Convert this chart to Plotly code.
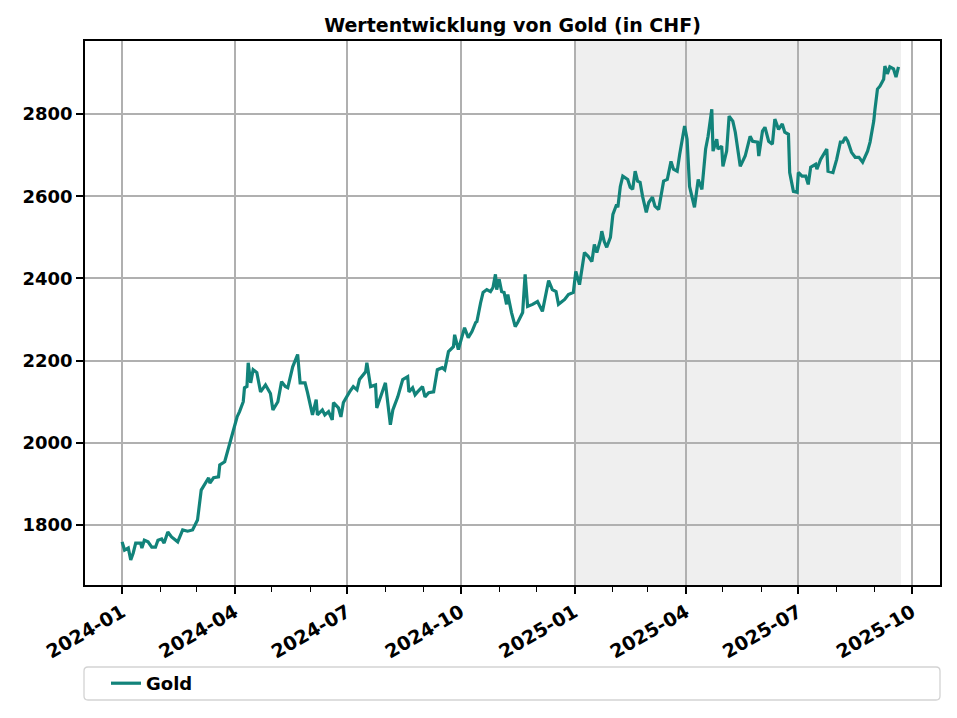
import plotly.graph_objects as go

TITLE = "Wertentwicklung von Gold (in CHF)"
SERIES_NAME = "Gold"

dates = [
    "2024-01-01", "2024-01-03", "2024-01-06", "2024-01-08", "2024-01-10", "2024-01-12",
    "2024-01-16", "2024-01-17", "2024-01-19", "2024-01-22", "2024-01-25", "2024-01-28",
    "2024-01-30", "2024-02-02", "2024-02-04", "2024-02-07", "2024-02-10", "2024-02-13",
    "2024-02-15", "2024-02-19", "2024-02-23", "2024-02-27", "2024-03-02", "2024-03-05",
    "2024-03-08", "2024-03-11", "2024-03-12", "2024-03-15", "2024-03-19", "2024-03-20",
    "2024-03-24", "2024-03-30", "2024-04-03", "2024-04-05", "2024-04-08", "2024-04-09",
    "2024-04-11", "2024-04-12", "2024-04-14", "2024-04-16", "2024-04-19", "2024-04-22",
    "2024-04-26", "2024-04-30", "2024-05-02", "2024-05-06", "2024-05-09", "2024-05-12",
    "2024-05-14", "2024-05-18", "2024-05-22", "2024-05-24", "2024-05-28", "2024-05-30",
    "2024-06-03", "2024-06-06", "2024-06-07", "2024-06-11", "2024-06-13", "2024-06-16",
    "2024-06-19", "2024-06-20", "2024-06-24", "2024-06-26", "2024-06-28", "2024-07-03",
    "2024-07-06", "2024-07-09", "2024-07-11", "2024-07-16", "2024-07-17", "2024-07-20",
    "2024-07-24", "2024-07-25", "2024-07-29", "2024-08-01", "2024-08-05", "2024-08-07",
    "2024-08-11", "2024-08-15", "2024-08-19", "2024-08-20", "2024-08-23", "2024-08-25",
    "2024-08-27", "2024-08-31", "2024-09-02", "2024-09-05", "2024-09-09", "2024-09-12",
    "2024-09-16", "2024-09-18", "2024-09-21", "2024-09-25", "2024-09-26", "2024-09-29",
    "2024-10-02", "2024-10-04", "2024-10-07", "2024-10-10", "2024-10-13", "2024-10-14",
    "2024-10-17", "2024-10-19", "2024-10-22", "2024-10-25", "2024-10-27", "2024-10-29",
    "2024-10-30", "2024-11-01", "2024-11-03", "2024-11-05", "2024-11-07", "2024-11-08",
    "2024-11-11", "2024-11-14", "2024-11-16", "2024-11-20", "2024-11-22", "2024-11-24",
    "2024-11-28", "2024-12-02", "2024-12-06", "2024-12-08", "2024-12-11", "2024-12-14",
    "2024-12-17", "2024-12-19", "2024-12-24", "2024-12-27", "2024-12-31", "2025-01-02",
    "2025-01-05", "2025-01-09", "2025-01-12", "2025-01-15", "2025-01-17", "2025-01-19",
    "2025-01-22", "2025-01-23", "2025-01-25", "2025-01-27", "2025-01-30", "2025-02-01",
    "2025-02-04", "2025-02-05", "2025-02-07", "2025-02-09", "2025-02-13", "2025-02-15",
    "2025-02-17", "2025-02-19", "2025-02-21", "2025-02-23", "2025-02-25", "2025-02-28",
    "2025-03-02", "2025-03-05", "2025-03-07", "2025-03-10", "2025-03-14", "2025-03-17",
    "2025-03-20", "2025-03-22", "2025-03-25", "2025-03-27", "2025-03-31", "2025-04-02",
    "2025-04-04", "2025-04-08", "2025-04-11", "2025-04-14", "2025-04-17", "2025-04-19",
    "2025-04-22", "2025-04-23", "2025-04-26", "2025-04-27", "2025-04-30", "2025-05-01",
    "2025-05-04", "2025-05-06", "2025-05-09", "2025-05-11", "2025-05-15", "2025-05-19",
    "2025-05-23", "2025-05-25", "2025-05-29", "2025-05-30", "2025-06-02", "2025-06-04",
    "2025-06-07", "2025-06-10", "2025-06-12", "2025-06-15", "2025-06-18", "2025-06-20",
    "2025-06-23", "2025-06-24", "2025-06-27", "2025-06-30", "2025-07-01", "2025-07-04",
    "2025-07-07", "2025-07-09", "2025-07-11", "2025-07-15", "2025-07-16", "2025-07-19",
    "2025-07-23", "2025-07-24", "2025-07-25", "2025-07-29", "2025-08-01", "2025-08-04",
    "2025-08-06", "2025-08-08", "2025-08-10", "2025-08-13", "2025-08-16", "2025-08-19",
    "2025-08-22", "2025-08-26", "2025-08-28", "2025-08-31", "2025-09-01", "2025-09-03",
    "2025-09-05", "2025-09-08", "2025-09-09", "2025-09-11", "2025-09-13", "2025-09-16",
    "2025-09-18", "2025-09-20",
]

gold_chf = [
    1759, 1739, 1744, 1715, 1732, 1756,
    1756, 1744, 1763, 1759, 1746, 1746,
    1763, 1766, 1756, 1783, 1771, 1763,
    1759, 1788, 1785, 1788, 1812, 1885,
    1902, 1915, 1902, 1915, 1917, 1946,
    1954, 2024, 2063, 2076, 2100, 2134,
    2137, 2195, 2146, 2178, 2171, 2124,
    2141, 2120, 2080, 2100, 2149, 2137,
    2134, 2185, 2215, 2146, 2146, 2122,
    2068, 2105, 2068, 2080, 2068, 2076,
    2056, 2098, 2085, 2063, 2098, 2124,
    2137, 2129, 2154, 2173, 2195, 2137,
    2141, 2085, 2122, 2146, 2044, 2080,
    2112, 2154, 2161, 2124, 2134, 2117,
    2124, 2137, 2112, 2122, 2124, 2178,
    2183, 2178, 2222, 2234, 2263, 2227,
    2259, 2280, 2256, 2271, 2293, 2295,
    2341, 2366, 2373, 2368, 2378, 2410,
    2373, 2398, 2368, 2366, 2337, 2361,
    2317, 2283, 2293, 2317, 2410, 2332,
    2337, 2344, 2320, 2349, 2395, 2373,
    2368, 2337, 2349, 2361, 2366, 2417,
    2385, 2463, 2454, 2441, 2483, 2463,
    2495, 2515, 2490, 2476, 2500, 2556,
    2580, 2573, 2624, 2649, 2641, 2622,
    2617, 2661, 2637, 2634, 2600, 2561,
    2585, 2598, 2576, 2568, 2637, 2641,
    2685, 2666, 2661, 2702, 2771, 2739,
    2624, 2573, 2641, 2617, 2715, 2746,
    2812, 2710, 2739, 2715, 2722, 2673,
    2710, 2795, 2783, 2756, 2673, 2698,
    2746, 2734, 2732, 2698, 2759, 2768,
    2734, 2727, 2788, 2763, 2776, 2756,
    2751, 2658, 2612, 2610, 2658, 2649,
    2649, 2629, 2671, 2678, 2666, 2690,
    2710, 2715, 2661, 2658, 2690, 2732,
    2732, 2744, 2734, 2707, 2695, 2695,
    2683, 2710, 2732, 2783, 2812, 2861,
    2868, 2885, 2917, 2898, 2915, 2910,
    2890, 2915,
]

SHADE_START = "2025-01-01"
SHADE_END = "2025-09-22"
X_RANGE = ["2023-12-02", "2025-10-23 14:00"]
Y_RANGE = [1654, 2978]
Y_TICKS = [1800, 2000, 2200, 2400, 2600, 2800]
X_TICKS = ["2024-01-01", "2024-04-01", "2024-07-01", "2024-10-01",
           "2025-01-01", "2025-04-01", "2025-07-01", "2025-10-01"]
X_TICK_LABELS = ["2024-01", "2024-04", "2024-07", "2024-10",
                 "2025-01", "2025-04", "2025-07", "2025-10"]

LINE_COLOR = "#12837A"
FONT = "DejaVu Sans"

fig = go.Figure()
fig.add_trace(go.Scatter(
    x=dates, y=gold_chf, mode="lines", name=f"<b>{SERIES_NAME}</b>",
    line=dict(color=LINE_COLOR, width=3.2),
))

# shaded period (below grid)
fig.add_shape(type="rect", xref="x", yref="paper",
              x0=SHADE_START, x1=SHADE_END, y0=0, y1=1,
              fillcolor="#efefef", line=dict(width=0), layer="below")

# legend frame spanning full width below the plot
H = 544.0
W = 855.0
y_top = (585 - 667) / H
y_bot = (585 - 700) / H
x_l = (84 - 85) / W
x_r = 1.0
rx = 4 / W
ry = 4 / H
path = (f"M {x_l+rx},{y_top} L {x_r-rx},{y_top} Q {x_r},{y_top} {x_r},{y_top-ry} "
        f"L {x_r},{y_bot+ry} Q {x_r},{y_bot} {x_r-rx},{y_bot} "
        f"L {x_l+rx},{y_bot} Q {x_l},{y_bot} {x_l},{y_bot+ry} "
        f"L {x_l},{y_top-ry} Q {x_l},{y_top} {x_l+rx},{y_top} Z")
fig.add_shape(type="path", xref="paper", yref="paper", path=path,
              line=dict(color="#d3d3d3", width=1.3), fillcolor="rgba(255,255,255,0.8)",
              layer="above")

fig.update_layout(
    width=957, height=718, autosize=False,
    margin=dict(l=85, r=17, t=41, b=133),
    paper_bgcolor="white", plot_bgcolor="white",
    font=dict(family=FONT, size=18, color="black"),
    title=dict(text=f"<b>{TITLE}</b>", x=(512.5) / 957, xanchor="center",
               y=1 - 25 / 718, yanchor="middle",
               font=dict(family=FONT, size=19, color="black")),
    showlegend=True,
    legend=dict(x=(106 - 85) / W, xanchor="left", y=(585 - 683.5) / H, yanchor="middle",
                bgcolor="rgba(0,0,0,0)", borderwidth=0,
                font=dict(family=FONT, size=18, color="black"),
                itemwidth=30),
)

fig.update_xaxes(
    type="date", range=X_RANGE,
    tickvals=X_TICKS, ticktext=[f"<b>{t}</b>" for t in X_TICK_LABELS],
    tickangle=-30, tickfont=dict(family=FONT, size=19, color="black"),
    ticks="outside", ticklen=7, tickwidth=1.5, tickcolor="black",
    showgrid=True, gridcolor="#b0b0b0", gridwidth=1.5,
    showline=True, linecolor="black", linewidth=1.6, mirror=True,
    minor=dict(dtick="M1", tick0="2024-01-01", ticks="outside", ticklen=5,
               tickwidth=1.2, tickcolor="black", showgrid=False),
    zeroline=False, ticklabelstandoff=0,
)
fig.update_yaxes(
    range=Y_RANGE, tickvals=Y_TICKS, ticktext=[f"<b>{v}</b>" for v in Y_TICKS],
    tickfont=dict(family=FONT, size=18, color="black"),
    ticks="outside", ticklen=7, tickwidth=1.5, tickcolor="black",
    showgrid=True, gridcolor="#b0b0b0", gridwidth=1.5,
    showline=True, linecolor="black", linewidth=1.6, mirror=True,
    zeroline=False,
)

fig.write_html("out.html")
